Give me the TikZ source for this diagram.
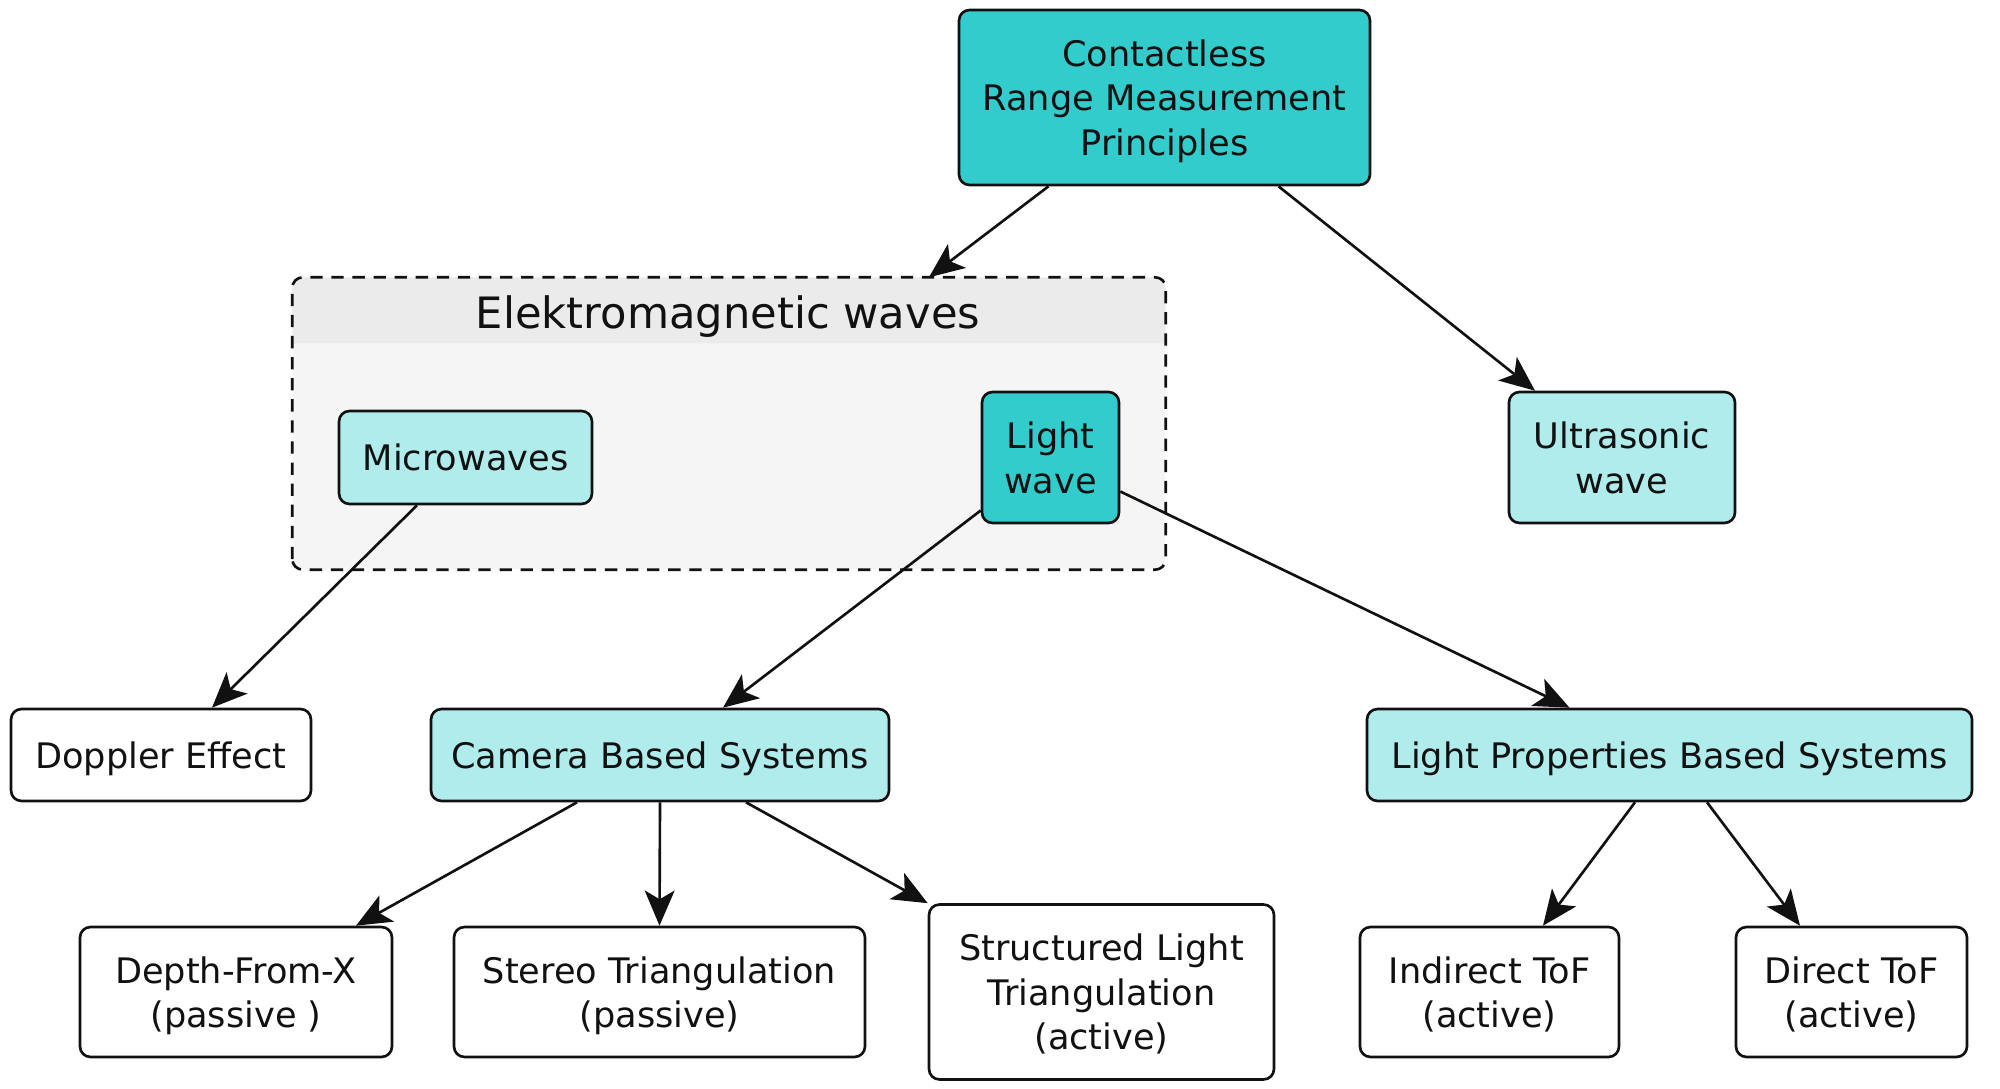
\documentclass[tikz,border=0pt]{standalone}
\usepackage{fontspec}
\setmainfont{DejaVu Sans}
\usepackage{xcolor}
\usepackage{tikz}
\usetikzlibrary{arrows.meta, positioning, calc}
\definecolor{rangeink}{HTML}{111111}
\definecolor{tealdeep}{HTML}{33CCCC}
\definecolor{tealpale}{HTML}{B0ECEC}
\definecolor{groupbg}{HTML}{F5F5F5}
\definecolor{grouphd}{HTML}{EBEBEB}
\tikzset{
  basebox/.style={draw=rangeink, rounded corners=3pt, align=center, inner sep=0pt, text depth=0pt,
    font=\fontsize{10}{12.7}\selectfont, text=rangeink, line width=0.75pt},
  wbox/.style={basebox, fill=white},
  pbox/.style={basebox, fill=tealpale},
  dbox/.style={basebox, fill=tealdeep},
  groupline/.style={draw=rangeink, dash pattern=on 3.5pt off 2.5pt, rounded corners=3pt, line width=0.75pt},
  flow/.style={-{Stealth[length=10pt, width=8.5pt, inset=2.5pt]}, draw=rangeink, line width=0.75pt}
}
\begin{document}
\begin{tikzpicture}
\useasboundingbox (0,0) rectangle (20,10.88);
% cluster
\node[fill=groupbg, rounded corners=3pt, minimum width=8.72cm, minimum height=2.91cm, inner sep=0pt] (emw) at (7.29,6.645) {};
\fill[grouphd] ($(emw.north west)+(0,-0.66)$) [rounded corners=3pt] -- (emw.north west) -- (emw.north east) [sharp corners] -- ($(emw.north east)+(0,-0.66)$) -- cycle;
\draw[groupline] (emw.south west) rectangle (emw.north east);
\node[font=\fontsize{12.3}{14}\selectfont, text=rangeink] (emwlabel) at (7.28,7.71) {Elektromagnetic waves};
% nodes
\node[dbox, minimum width=4.11cm, minimum height=1.75cm] (root) at (11.645,9.905) {Contactless\\Range Measurement\\Principles};
\node[pbox, minimum width=2.53cm, minimum height=0.93cm] (micro) at (4.655,6.305) {Microwaves};
\node[dbox, minimum width=1.37cm, minimum height=1.31cm] (light) at (10.505,6.305) {Light\\wave};
\node[pbox, minimum width=2.26cm, minimum height=1.31cm] (ultra) at (16.22,6.305) {Ultrasonic\\wave};
\node[wbox, minimum width=3.00cm, minimum height=0.92cm] (doppler) at (1.61,3.33) {Doppler Effect};
\node[pbox, minimum width=4.58cm, minimum height=0.92cm] (camera) at (6.60,3.33) {Camera Based Systems};
\node[pbox, minimum width=6.05cm, minimum height=0.92cm] (lprop) at (16.695,3.33) {Light Properties Based Systems};
\node[wbox, minimum width=3.12cm, minimum height=1.30cm] (depth) at (2.36,0.96) {Depth-From-X\\(passive )};
\node[wbox, minimum width=4.11cm, minimum height=1.30cm] (stereo) at (6.595,0.96) {Stereo Triangulation\\(passive)};
\node[wbox, minimum width=3.45cm, minimum height=1.75cm] (struct) at (11.015,0.96) {Structured Light\\Triangulation\\(active)};
\node[wbox, minimum width=2.59cm, minimum height=1.30cm] (itof) at (14.895,0.96) {Indirect ToF\\(active)};
\node[wbox, minimum width=2.31cm, minimum height=1.30cm] (dtof) at (18.515,0.96) {Direct ToF\\(active)};
% edges
\draw[flow] ([xshift=-1.16cm]root.south) -- ([xshift=2.0cm]emw.north);
\draw[flow] ([xshift=1.14cm]root.south) -- ([xshift=-0.87cm]ultra.north);
\draw[flow] ([xshift=-0.485cm]micro.south) -- ([xshift=0.51cm]doppler.north);
\draw[flow] ([yshift=-0.53cm]light.west) -- ([xshift=0.63cm]camera.north);
\draw[flow] ([yshift=-0.34cm]light.east) -- ([xshift=-1.0cm]lprop.north);
\draw[flow] ([xshift=-0.83cm]camera.south) -- ([xshift=1.2cm]depth.north);
\draw[flow] (camera.south) -- (stereo.north);
\draw[flow] ([xshift=0.86cm]camera.south) -- (struct.north west);
\draw[flow] ([xshift=-0.345cm]lprop.south) -- ([xshift=0.535cm]itof.north);
\draw[flow] ([xshift=0.375cm]lprop.south) -- ([xshift=-0.515cm]dtof.north);
\end{tikzpicture}
\end{document}
